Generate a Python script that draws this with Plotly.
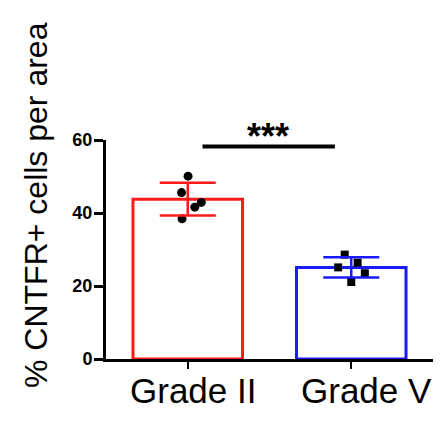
import plotly.graph_objects as go

categories = ["Grade II", "Grade V"]
means = [43.8, 25.1]
sds = [4.5, 2.8]
colors = ["#ff1a1a", "#1a1aff"]
points_ii = [50.1, 45.6, 42.9, 41.6, 38.4]
points_v = [28.6, 26.4, 25.1, 23.5, 21.1]
jitter_ii = [0.002, -0.038, 0.083, 0.043, -0.035]
jitter_v = [-0.04, 0.039, -0.08, 0.083, 0.0]
label_shift = [5, 15]
y_ticks = [0, 20, 40, 60]
y_title = "% CNTFR+ cells per area"
sig_label = "***"
sig_y = 58.2

font_family = "Arial, Liberation Sans, sans-serif"
xpos = list(range(len(categories)))

fig = go.Figure()
fig.add_trace(go.Bar(
    x=xpos, y=means, width=0.67,
    marker=dict(color="rgba(255,255,255,0)", line=dict(color=colors, width=3)),
    showlegend=False,
))
fig.add_trace(go.Scatter(
    x=[xpos[0] + j for j in jitter_ii], y=points_ii, mode="markers",
    marker=dict(symbol="circle", size=9, color="black"), showlegend=False,
))
fig.add_trace(go.Scatter(
    x=[xpos[1] + j for j in jitter_v], y=points_v, mode="markers",
    marker=dict(symbol="square", size=8, color="black"), showlegend=False,
))
for i in range(len(categories)):
    fig.add_trace(go.Scatter(
        x=[xpos[i]], y=[means[i]], mode="markers",
        marker=dict(size=1, color="rgba(0,0,0,0)"),
        error_y=dict(type="data", array=[sds[i]], color=colors[i], thickness=2.5, width=28),
        showlegend=False,
    ))

fig.add_shape(type="line", x0=0.09, x1=0.90, y0=sig_y, y1=sig_y, xref="x", yref="y",
              line=dict(color="black", width=4))
fig.add_annotation(x=0.49, y=sig_y, xref="x", yref="y", text="<b>" + sig_label + "</b>",
                   showarrow=False, yanchor="bottom", yshift=-12,
                   font=dict(family=font_family, size=36, color="black"))
fig.add_annotation(x=(36 - 106) / 327, y=(359 - 205) / 219, xref="paper", yref="paper",
                   text=y_title, showarrow=False, textangle=-90,
                   xanchor="center", yanchor="middle",
                   font=dict(family=font_family, size=32, color="black"))
for i, cat in enumerate(categories):
    fig.add_annotation(x=xpos[i], y=0, xref="x", yref="y", text=cat, showarrow=False,
                       yanchor="top", yshift=-10, xshift=label_shift[i],
                       font=dict(family=font_family, size=35, color="black"))

fig.update_layout(
    width=446, height=429,
    margin=dict(l=98, r=21, t=132, b=78),
    plot_bgcolor="white", paper_bgcolor="white",
    font=dict(family=font_family, color="black"),
    xaxis=dict(range=[-0.5, 1.5], tickvals=xpos, ticktext=["", ""],
               showline=True, linecolor="black", linewidth=3, ticks="outside",
               ticklen=7, tickwidth=2, tickcolor="black", showgrid=False, zeroline=False),
    yaxis=dict(range=[0, 60], tickvals=y_ticks, showline=True, linecolor="black",
               linewidth=3, ticks="outside", ticklen=9, tickwidth=2.5, tickcolor="black",
               showgrid=False, zeroline=False, ticklabelstandoff=-2,
               tickfont=dict(size=18, family=font_family, color="black", weight="bold")),
)
fig.write_html("out.html")
